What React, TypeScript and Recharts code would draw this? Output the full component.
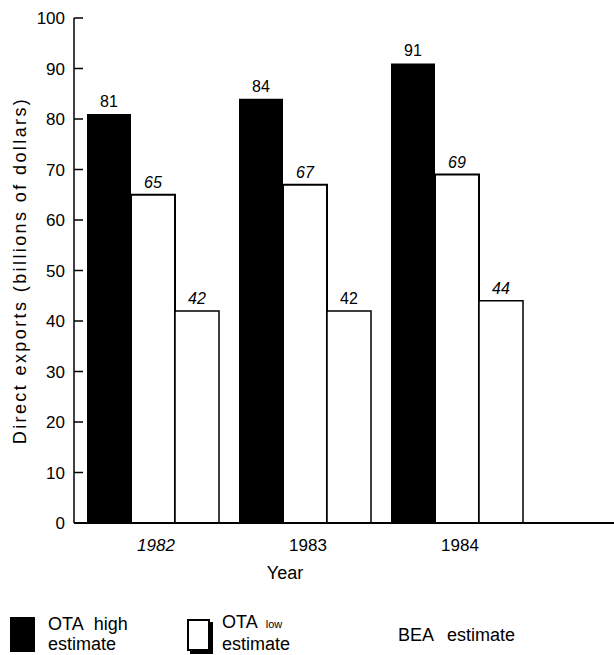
import React from "react";
import { BarChart, Bar, XAxis, YAxis, LabelList } from "recharts";

const years = ["1982", "1983", "1984"];
const otaHigh = [81, 84, 91];
const otaLow = [65, 67, 69];
const bea = [42, 42, 44];
const yTicks = [0, 10, 20, 30, 40, 50, 60, 70, 80, 90, 100];

const data = years.map((year, i) => ({
  year,
  high: otaHigh[i],
  low: otaLow[i],
  bea: bea[i],
}));

const FONT = "'Liberation Sans', Arial, sans-serif";

const YTick = (props: any) => {
  const { x, y, payload } = props;
  const axisX = x + 9;
  return (
    <g>
      <line x1={axisX} x2={axisX + 9} y1={y} y2={y} stroke="#000" strokeWidth={1.5} />
      <text x={x} y={y} dy={6} textAnchor="end" fontSize={17} fontFamily={FONT} fill="#000">
        {payload.value}
      </text>
    </g>
  );
};

const XTick = (props: any) => {
  const { x, y, payload } = props;
  return (
    <text
      x={x + 3}
      y={y}
      dy={28}
      textAnchor="middle"
      fontSize={17}
      fontFamily={FONT}
      fontStyle={payload.value === "1982" ? "italic" : "normal"}
      fill="#000"
    >
      {payload.value}
    </text>
  );
};

const makeLabel = (italicFor: (i: number) => boolean) => (props: any) => {
  const { x, y, width, value, index } = props;
  return (
    <text
      x={x + width / 2}
      y={y - 7}
      textAnchor="middle"
      fontSize={16}
      fontFamily={FONT}
      fontStyle={italicFor(index) ? "italic" : "normal"}
      fill="#000"
    >
      {value}
    </text>
  );
};

export default function App() {
  return (
    <div style={{ position: "absolute", left: 0, top: 0, width: 614, height: 655, background: "#fff" }}>
      <BarChart
        width={614}
        height={655}
        data={data}
        margin={{ top: 18, right: 0, bottom: 70, left: 0 }}
        barGap={0}
        barSize={44}
      >
        <XAxis
          dataKey="year"
          padding={{ left: 3, right: 81 }}
          tickLine={false}
          tickSize={0}
          tickMargin={0}
          height={62}
          tick={<XTick />}
          axisLine={{ stroke: "#000", strokeWidth: 2 }}
          label={{
            value: "Year",
            position: "insideBottom",
            dx: -59,
            offset: 6,
            style: { fontSize: 18, fontFamily: FONT, fill: "#000" },
          }}
        />
        <YAxis
          domain={[0, 100]}
          ticks={yTicks}
          width={74}
          tickLine={false}
          tickSize={0}
          tickMargin={9}
          tick={<YTick />}
          axisLine={{ stroke: "#000", strokeWidth: 1.5 }}
          label={{
            value: "Direct exports (billions of dollars)",
            angle: -90,
            position: "center",
            dx: -17,
            style: { fontSize: 18, letterSpacing: 2.4, fontFamily: FONT, fill: "#000", textAnchor: "middle" },
          }}
        />
        <Bar dataKey="high" fill="#000" isAnimationActive={false}>
          <LabelList dataKey="high" content={makeLabel(() => false)} />
        </Bar>
        <Bar dataKey="low" fill="#fff" stroke="#000" strokeWidth={2} isAnimationActive={false}>
          <LabelList dataKey="low" content={makeLabel(() => true)} />
        </Bar>
        <Bar dataKey="bea" fill="#fff" stroke="#000" strokeWidth={1.5} isAnimationActive={false}>
          <LabelList dataKey="bea" content={makeLabel((i) => years[i] !== "1983")} />
        </Bar>
      </BarChart>

      <div style={{ position: "absolute", left: 10, top: 617, width: 25, height: 35, background: "#000" }} />
      <div
        style={{
          position: "absolute",
          left: 48,
          top: 614,
          fontFamily: FONT,
          fontSize: 18,
          lineHeight: "20px",
          wordSpacing: 6,
          color: "#000",
        }}
      >
        OTA high
        <br />
        estimate
      </div>

      <div
        style={{
          position: "absolute",
          left: 187,
          top: 619,
          width: 19,
          height: 28,
          border: "2px solid #000",
          boxShadow: "3px 3px 0 #000",
          background: "#fff",
        }}
      />
      <div
        style={{
          position: "absolute",
          left: 222,
          top: 612,
          fontFamily: FONT,
          fontSize: 18,
          lineHeight: "20px",
          color: "#000",
        }}
      >
        OTA <span style={{ fontSize: 11, marginLeft: 4 }}>low</span>
        <br />
        estimate
      </div>

      <div
        style={{
          position: "absolute",
          left: 398,
          top: 625,
          fontFamily: FONT,
          fontSize: 18,
          lineHeight: "20px",
          wordSpacing: 9,
          color: "#000",
        }}
      >
        BEA estimate
      </div>
    </div>
  );
}
